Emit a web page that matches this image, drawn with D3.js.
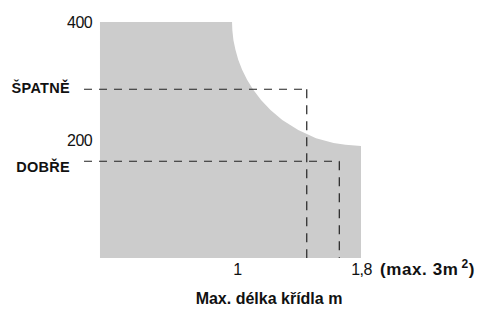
<!DOCTYPE html>
<html>
<head>
<meta charset="utf-8">
<script src="https://cdn.jsdelivr.net/npm/d3@7"></script>
<style>
  body { margin: 0; background: #fff; }
  svg { display: block; font-family: "Liberation Sans", Arial, sans-serif; }
</style>
</head>
<body>
<div id="chart"></div>
<script>
'use strict';

// x = max. wing length (m), y = load
var curveLength = [0.116, 0.968, 0.970, 0.977, 0.990, 1.008, 1.033, 1.065, 1.105,
                   1.155, 1.216, 1.292, 1.395, 1.510, 1.623, 1.700, 1.800];
var curveLoad   = [400, 400, 386, 369, 353, 336, 319, 302, 285,
                   268, 251, 234, 217, 203, 195, 192, 190];

var limitNames  = ['ŠPATNĚ', 'DOBŘE'];
var limitLoad   = [286, 164];
var limitLength = [1.45, 1.66];

var yTicks = [200, 400];
var xTicks = [1, 1.8];

var width = 480, height = 309;

var x = d3.scaleLinear().domain([1, 1.8]).range([237, 361]);
var y = d3.scaleLinear().domain([0, 400]).range([258, 22]);

var svg = d3.select('#chart')
  .append('svg')
    .attr('width', width)
    .attr('height', height);

// gray allowed region
var pts = curveLength.map(function(d, i) { return { l: d, v: curveLoad[i] }; });
var area = d3.area()
  .x(function(d) { return x(d.l); })
  .y0(y(0))
  .y1(function(d) { return y(d.v); });

svg.append('path')
  .datum(pts)
  .attr('d', area)
  .style('fill', '#cccccc');

// dashed limit lines
var limits = limitNames.map(function(n, i) {
  return { name: n, v: limitLoad[i], l: limitLength[i] };
});

var lim = svg.selectAll('g.limit')
  .data(limits)
  .enter()
  .append('g')
    .attr('class', 'limit');

lim.append('path')
  .attr('d', function(d) {
    return 'M' + x(0.013) + ',' + y(d.v) + 'H' + x(d.l);
  })
  .style('fill', 'none')
  .style('stroke', '#222')
  .style('stroke-width', 1.2)
  .style('stroke-dasharray', '8,7');

lim.append('path')
  .attr('d', function(d) {
    return 'M' + x(d.l) + ',' + y(d.v) + 'V' + y(0);
  })
  .style('fill', 'none')
  .style('stroke', '#222')
  .style('stroke-width', 1.2)
  .style('stroke-dasharray', '9,7');

lim.append('text')
  .attr('x', 70)
  .attr('y', function(d, i) { return y(d.v) + (i === 0 ? 4 : 11); })
  .style('text-anchor', 'end')
  .style('font-size', '14.5px')
  .style('font-weight', 'bold')
  .style('letter-spacing', '0.3px')
  .style('fill', '#111')
  .text(function(d) { return d.name; });

// axes (labels only)
var yAxis = svg.append('g')
  .attr('transform', 'translate(100,0)')
  .call(d3.axisLeft(y).tickValues(yTicks).tickSize(0).tickPadding(8));

var xAxis = svg.append('g')
  .attr('transform', 'translate(0,' + y(0) + ')')
  .call(d3.axisBottom(x).tickValues(xTicks).tickSize(0).tickPadding(6)
    .tickFormat(function(d) { return String(d).replace('.', ','); }));

[yAxis, xAxis].forEach(function(g) {
  g.select('.domain').remove();
  g.selectAll('text')
    .style('font-family', '"Liberation Sans", Arial, sans-serif')
    .style('font-size', '16px')
    .style('letter-spacing', '-0.6px')
    .style('fill', '#111');
});

// unit note next to last tick
var note = svg.append('text')
  .attr('x', 380)
  .attr('y', 275)
  .style('font-size', '17px')
  .style('font-weight', 'bold')
  .style('letter-spacing', '0.6px')
  .style('fill', '#111')
  .text('(max. 3m');
note.append('tspan')
  .attr('dx', 3)
  .attr('dy', -7)
  .style('font-size', '12px')
  .text('2');
note.append('tspan')
  .attr('dy', 7)
  .text(')');

// axis title
svg.append('text')
  .attr('x', 269)
  .attr('y', 304)
  .style('text-anchor', 'middle')
  .style('font-size', '16px')
  .style('font-weight', 'bold')
  .style('fill', '#111')
  .text('Max. délka křídla m');
</script>
</body>
</html>
